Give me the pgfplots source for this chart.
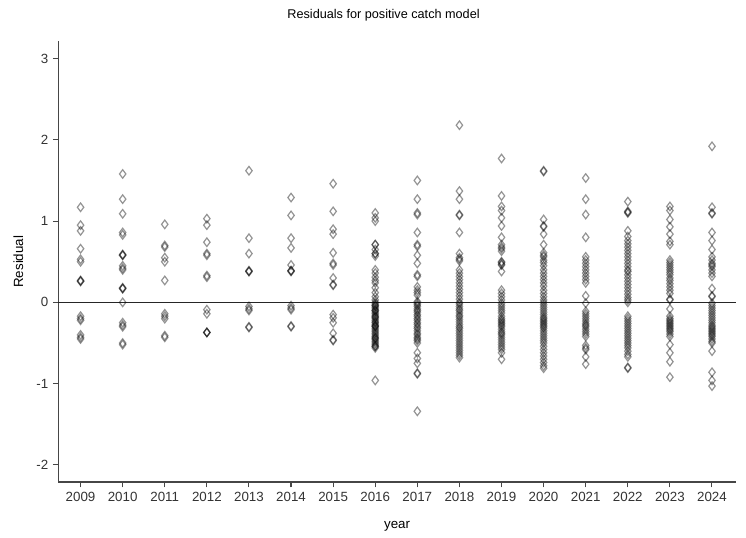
\documentclass[border=0pt]{standalone}
\usepackage{pgfplots}
\pgfplotsset{compat=1.18}
\usepackage{fontspec}
\setmainfont{Liberation Sans}
\definecolor{spine}{RGB}{70,70,70}
\begin{document}
\begin{tikzpicture}
\path[use as bounding box] (-43.7pt,-41.25pt) rectangle (515.8pt,361.5pt);
\begin{axis}[
  at={(0,0)}, anchor=south west,
  scale only axis, width=508.3pt, height=330.4pt,
  xmin=2008.47, xmax=2024.57, ymin=-2.21, ymax=3.21,
  axis x line*=bottom, axis y line*=left,
  axis line style={spine, line width=0.9pt},
  xtick={2009,...,2024}, ytick={-2,-1,0,1,2,3},
  x tick label style={/pgf/number format/1000 sep={}},
  tick align=outside, major tick length=4pt,
  tick style={spine, line width=0.8pt},
  /pgf/number format/assume math mode=true,
  tick label style={font=\fontsize{10}{12}\selectfont, text=black!80},
  title={Residuals for positive catch model},
  title style={font=\fontsize{9.5}{11}\selectfont, at={(axis description cs:0.48,1.042)}, anchor=center},
  xlabel={year}, ylabel={Residual},
  xlabel style={font=\fontsize{10}{12}\selectfont, at={(axis description cs:0.5,-0.1)}, anchor=center},
  ylabel style={font=\fontsize{10}{12}\selectfont, at={(axis description cs:-0.059,0.5)}, anchor=center},
  clip=false,
]
\draw[black!85, line width=0.9pt] (axis cs:2008.47,0) -- (axis cs:2024.57,0);
\addplot[only marks, mark=diamond, mark size=3.2pt, draw=black, draw opacity=0.42, line width=0.9pt]
coordinates {
(2009,1.17)(2009,0.95)(2009,0.88)(2009,0.66)(2009,0.53)(2009,0.50)(2009,0.27)(2009,0.26)(2009,0.26)(2009,-0.17)(2009,-0.20)(2009,-0.22)(2009,-0.40)(2009,-0.43)(2009,-0.45)
(2010,1.58)(2010,1.27)(2010,1.09)(2010,0.86)(2010,0.83)(2010,0.59)(2010,0.58)(2010,0.58)(2010,0.45)(2010,0.42)(2010,0.40)(2010,0.18)(2010,0.17)(2010,0.17)(2010,0.00)(2010,-0.25)(2010,-0.28)(2010,-0.30)(2010,-0.50)(2010,-0.52)
(2011,0.96)(2011,0.70)(2011,0.68)(2011,0.55)(2011,0.50)(2011,0.27)(2011,-0.14)(2011,-0.17)(2011,-0.20)(2011,-0.41)(2011,-0.43)
(2012,1.03)(2012,0.95)(2012,0.74)(2012,0.60)(2012,0.58)(2012,0.33)(2012,0.31)(2012,-0.09)(2012,-0.14)(2012,-0.37)(2012,-0.37)(2012,-0.37)
(2013,1.62)(2013,0.79)(2013,0.60)(2013,0.39)(2013,0.38)(2013,0.38)(2013,-0.05)(2013,-0.08)(2013,-0.10)(2013,-0.31)(2013,-0.30)
(2014,1.29)(2014,1.07)(2014,0.79)(2014,0.67)(2014,0.46)(2014,0.39)(2014,0.39)(2014,0.38)(2014,-0.04)(2014,-0.07)(2014,-0.09)(2014,-0.30)(2014,-0.29)
(2015,1.46)(2015,1.12)(2015,0.90)(2015,0.84)(2015,0.61)(2015,0.48)(2015,0.46)(2015,0.30)(2015,0.22)(2015,0.21)(2015,-0.15)(2015,-0.19)(2015,-0.25)(2015,-0.38)(2015,-0.46)(2015,-0.47)
(2016,1.10)(2016,1.04)(2016,1.00)(2016,0.71)(2016,0.71)(2016,0.65)(2016,0.60)(2016,0.60)(2016,0.57)(2016,0.40)(2016,0.36)(2016,0.31)(2016,0.27)(2016,0.24)(2016,0.18)(2016,0.12)(2016,0.07)(2016,0.03)(2016,0.00)(2016,-0.02)(2016,-0.04)(2016,-0.04)(2016,-0.06)(2016,-0.08)(2016,-0.10)(2016,-0.10)(2016,-0.12)(2016,-0.14)(2016,-0.16)(2016,-0.18)(2016,-0.18)(2016,-0.20)(2016,-0.22)(2016,-0.24)(2016,-0.25)(2016,-0.27)(2016,-0.29)(2016,-0.29)(2016,-0.30)(2016,-0.32)(2016,-0.34)(2016,-0.36)(2016,-0.38)(2016,-0.40)(2016,-0.42)(2016,-0.44)(2016,-0.44)(2016,-0.46)(2016,-0.48)(2016,-0.50)(2016,-0.52)(2016,-0.54)(2016,-0.54)(2016,-0.56)(2016,-0.96)
(2017,1.50)(2017,1.27)(2017,1.10)(2017,1.08)(2017,0.86)(2017,0.71)(2017,0.69)(2017,0.58)(2017,0.48)(2017,0.34)(2017,0.32)(2017,0.19)(2017,0.15)(2017,0.12)(2017,0.09)(2017,0.01)(2017,-0.01)(2017,-0.03)(2017,-0.05)(2017,-0.08)(2017,-0.10)(2017,-0.12)(2017,-0.15)(2017,-0.17)(2017,-0.20)(2017,-0.22)(2017,-0.25)(2017,-0.27)(2017,-0.30)(2017,-0.32)(2017,-0.35)(2017,-0.38)(2017,-0.40)(2017,-0.43)(2017,-0.45)(2017,-0.47)(2017,-0.50)(2017,-0.62)(2017,-0.69)(2017,-0.75)(2017,-0.88)(2017,-0.87)(2017,-1.34)
(2018,2.18)(2018,1.37)(2018,1.27)(2018,1.08)(2018,1.07)(2018,0.86)(2018,0.60)(2018,0.55)(2018,0.53)(2018,0.51)(2018,0.40)(2018,0.36)(2018,0.32)(2018,0.28)(2018,0.24)(2018,0.20)(2018,0.16)(2018,0.12)(2018,0.08)(2018,0.04)(2018,0.00)(2018,-0.02)(2018,-0.05)(2018,-0.08)(2018,-0.10)(2018,-0.13)(2018,-0.16)(2018,-0.18)(2018,-0.21)(2018,-0.24)(2018,-0.27)(2018,-0.30)(2018,-0.32)(2018,-0.35)(2018,-0.38)(2018,-0.41)(2018,-0.44)(2018,-0.47)(2018,-0.50)(2018,-0.53)(2018,-0.56)(2018,-0.59)(2018,-0.62)(2018,-0.65)(2018,-0.68)
(2019,1.77)(2019,1.31)(2019,1.18)(2019,1.13)(2019,1.04)(2019,0.94)(2019,0.80)(2019,0.71)(2019,0.68)(2019,0.66)(2019,0.63)(2019,0.50)(2019,0.49)(2019,0.47)(2019,0.46)(2019,0.38)(2019,0.15)(2019,0.11)(2019,0.07)(2019,0.03)(2019,-0.01)(2019,-0.04)(2019,-0.07)(2019,-0.10)(2019,-0.13)(2019,-0.17)(2019,-0.20)(2019,-0.22)(2019,-0.24)(2019,-0.26)(2019,-0.28)(2019,-0.30)(2019,-0.33)(2019,-0.36)(2019,-0.38)(2019,-0.40)(2019,-0.43)(2019,-0.46)(2019,-0.49)(2019,-0.52)(2019,-0.55)(2019,-0.58)(2019,-0.62)(2019,-0.70)
(2020,1.62)(2020,1.61)(2020,1.02)(2020,0.94)(2020,0.93)(2020,0.84)(2020,0.71)(2020,0.61)(2020,0.58)(2020,0.56)(2020,0.52)(2020,0.49)(2020,0.45)(2020,0.40)(2020,0.36)(2020,0.32)(2020,0.28)(2020,0.24)(2020,0.20)(2020,0.15)(2020,0.11)(2020,0.07)(2020,0.03)(2020,0.00)(2020,-0.03)(2020,-0.06)(2020,-0.09)(2020,-0.12)(2020,-0.15)(2020,-0.18)(2020,-0.20)(2020,-0.22)(2020,-0.24)(2020,-0.26)(2020,-0.28)(2020,-0.30)(2020,-0.32)(2020,-0.35)(2020,-0.38)(2020,-0.41)(2020,-0.44)(2020,-0.47)(2020,-0.50)(2020,-0.54)(2020,-0.58)(2020,-0.62)(2020,-0.66)(2020,-0.70)(2020,-0.74)(2020,-0.78)(2020,-0.81)
(2021,1.53)(2021,1.27)(2021,1.08)(2021,0.80)(2021,0.56)(2021,0.52)(2021,0.48)(2021,0.44)(2021,0.40)(2021,0.36)(2021,0.32)(2021,0.28)(2021,0.24)(2021,0.08)(2021,-0.01)(2021,-0.11)(2021,-0.14)(2021,-0.17)(2021,-0.20)(2021,-0.23)(2021,-0.26)(2021,-0.28)(2021,-0.30)(2021,-0.33)(2021,-0.36)(2021,-0.39)(2021,-0.42)(2021,-0.53)(2021,-0.56)(2021,-0.58)(2021,-0.67)(2021,-0.76)
(2022,1.24)(2022,1.12)(2022,1.10)(2022,1.11)(2022,0.88)(2022,0.81)(2022,0.76)(2022,0.72)(2022,0.68)(2022,0.64)(2022,0.60)(2022,0.56)(2022,0.52)(2022,0.48)(2022,0.44)(2022,0.40)(2022,0.38)(2022,0.34)(2022,0.30)(2022,0.26)(2022,0.22)(2022,0.18)(2022,0.14)(2022,0.10)(2022,0.06)(2022,0.03)(2022,0.00)(2022,-0.17)(2022,-0.20)(2022,-0.23)(2022,-0.26)(2022,-0.29)(2022,-0.32)(2022,-0.35)(2022,-0.38)(2022,-0.41)(2022,-0.44)(2022,-0.47)(2022,-0.50)(2022,-0.53)(2022,-0.56)(2022,-0.60)(2022,-0.64)(2022,-0.67)(2022,-0.81)(2022,-0.80)
(2023,1.18)(2023,1.13)(2023,1.02)(2023,0.93)(2023,0.84)(2023,0.75)(2023,0.71)(2023,0.52)(2023,0.49)(2023,0.46)(2023,0.43)(2023,0.40)(2023,0.37)(2023,0.34)(2023,0.30)(2023,0.27)(2023,0.23)(2023,0.19)(2023,0.15)(2023,0.11)(2023,0.03)(2023,0.04)(2023,-0.08)(2023,-0.17)(2023,-0.20)(2023,-0.22)(2023,-0.24)(2023,-0.26)(2023,-0.28)(2023,-0.30)(2023,-0.32)(2023,-0.34)(2023,-0.36)(2023,-0.39)(2023,-0.42)(2023,-0.52)(2023,-0.62)(2023,-0.73)(2023,-0.92)
(2024,1.92)(2024,1.17)(2024,1.10)(2024,1.09)(2024,0.86)(2024,0.76)(2024,0.65)(2024,0.56)(2024,0.52)(2024,0.48)(2024,0.46)(2024,0.44)(2024,0.40)(2024,0.36)(2024,0.32)(2024,0.17)(2024,0.08)(2024,0.07)(2024,-0.01)(2024,-0.04)(2024,-0.07)(2024,-0.10)(2024,-0.13)(2024,-0.16)(2024,-0.19)(2024,-0.22)(2024,-0.25)(2024,-0.28)(2024,-0.30)(2024,-0.32)(2024,-0.34)(2024,-0.36)(2024,-0.38)(2024,-0.40)(2024,-0.42)(2024,-0.45)(2024,-0.48)(2024,-0.50)(2024,-0.60)(2024,-0.86)(2024,-0.96)(2024,-1.03)
};
\end{axis}
\end{tikzpicture}
\end{document}
